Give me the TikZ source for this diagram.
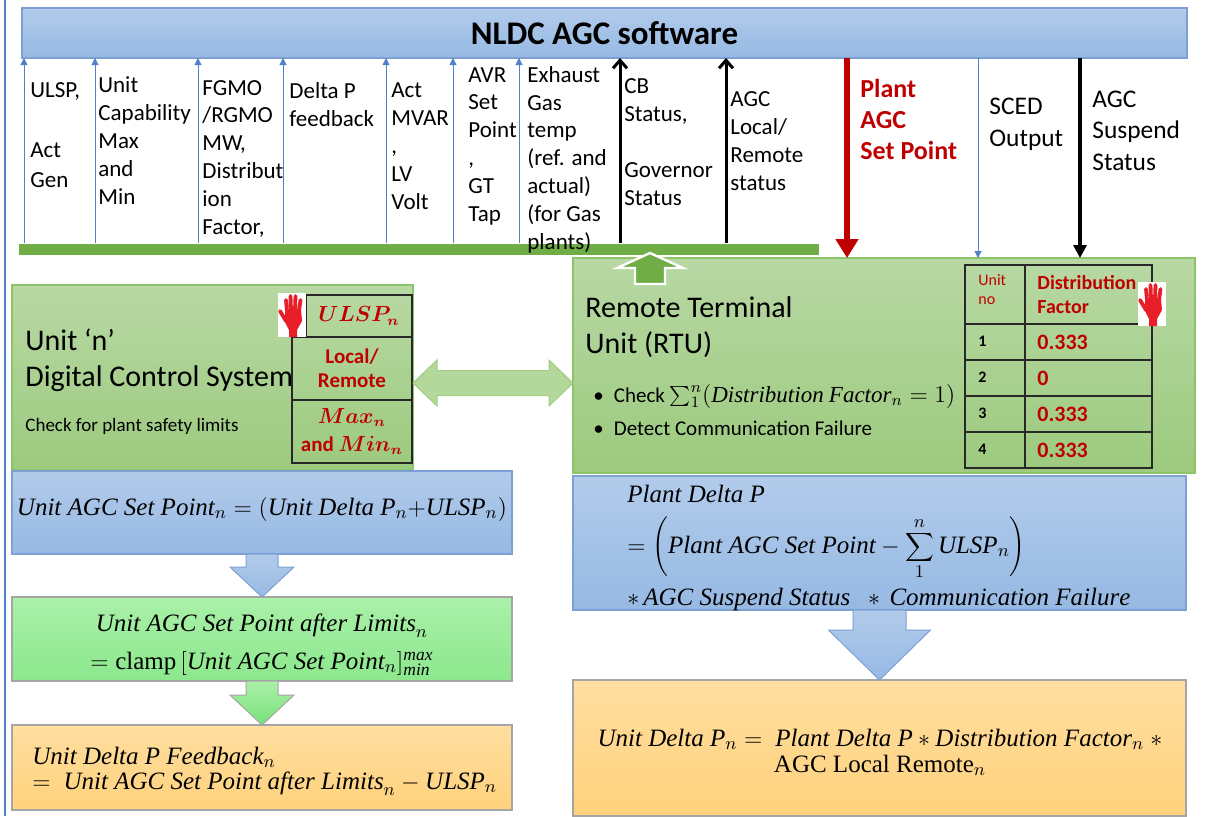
\documentclass[tikz,border=0pt]{standalone}
\usepackage{fontspec}
\usepackage{bm}
\newfontfamily\calibri{Carlito}
\newfontfamily\cambria[NFSSFamily=cambria]{Liberation Serif}
\DeclareMathAlphabet{\mathcam}{TU}{cambria}{m}{it}
\DeclareMathAlphabet{\mathcamup}{TU}{cambria}{m}{n}
\usetikzlibrary{calc,arrows.meta}
\def\blockdown[#1](#2)(#3)(#4:#5:#6){\draw[#1] ($(#2)+(-#4,0)$) -- ($(#3)+(-#4,-#6)$) -- ($(#3)+(-#5,-#6)$) -- (#3) -- ($(#3)+(#5,-#6)$) -- ($(#3)+(#4,-#6)$) -- ($(#2)+(#4,0)$) -- cycle;}

\definecolor{barline}{RGB}{125,160,212}
\definecolor{bartop}{RGB}{178,203,235}
\definecolor{barbot}{RGB}{150,185,227}
\definecolor{grtop}{RGB}{184,216,164}
\definecolor{grbot}{RGB}{156,202,126}
\definecolor{grline}{RGB}{140,196,106}
\definecolor{pgtop}{RGB}{170,240,170}
\definecolor{pgbot}{RGB}{140,232,140}
\definecolor{ortop}{RGB}{255,222,160}
\definecolor{orbot}{RGB}{255,210,124}
\definecolor{boxline}{RGB}{165,165,165}
\definecolor{busgreen}{RGB}{112,173,71}
\definecolor{agcred}{RGB}{192,0,0}
\definecolor{feedblue}{RGB}{80,128,200}
\definecolor{handred}{RGB}{232,30,40}
\definecolor{cellline}{RGB}{40,40,40}
\definecolor{dblgreen}{RGB}{180,216,156}

\tikzset{
  panel/.style={anchor=north west, inner sep=0pt, outer sep=0pt, line width=0.6pt},
  bluepanel/.style={panel, top color=bartop, bottom color=barbot, draw=barline},
  greenpanel/.style={panel, top color=grtop, bottom color=grbot, draw=grline},
  palepanel/.style={panel, top color=pgtop, bottom color=pgbot, draw=boxline},
  orangepanel/.style={panel, top color=ortop, bottom color=orbot, draw=boxline},
  sig/.style={anchor=base west, inner sep=0pt, align=left, font=\calibri\fontsize{11.5}{13.9}\selectfont},
  feed/.style={feedblue, line width=0.5pt, -{Triangle[length=3.5pt,width=3.5pt]}},
  status/.style={black, line width=1.5pt, -{Straight Barb[length=4pt,width=7pt]}},
  setpt/.style={agcred, line width=3pt, -{Triangle[length=9.5pt,width=11pt]}},
  suspline/.style={black, line width=2pt, -{Triangle[length=6.5pt,width=6.5pt]}},
  arrblue/.style={top color=bartop, bottom color=barbot, draw=barline, line width=0.5pt},
  arrgreen/.style={top color=pgtop, bottom color={rgb,255:red,120;green,225;blue,120}, draw=boxline, line width=0.5pt},
  eqn/.style={anchor=base, inner sep=0pt, font=\cambria\fontsize{12.5}{15}\selectfont},
  cell/.style={draw=cellline, line width=0.8pt, inner sep=0pt, text=agcred, align=center,
    font=\calibri\bfseries\fontsize{10.5}{12}\selectfont},
  tabtx/.style={anchor=base west, inner sep=0pt, align=left},
  stophand/.pic={
    \fill[white] (0,0) rectangle (28,44);
    \fill[handred] (7,17) -- (23,16) -- (24,28) -- (19,37) -- (19,44) -- (11,44) -- (11,37) -- (7,29) -- cycle;
    \draw[handred, line width=1.9pt, line cap=round] (9,18) -- (8,7) (13,17) -- (12.5,3) (17,17) -- (17.5,3) (21,18) -- (22.5,7) (8,28) -- (2,18);
  }
}

\begin{document}
\begin{tikzpicture}[x=0.5pt, y=-0.5pt]
	%%%%% START %%%%%
	\useasboundingbox (0,0) rectangle (1221,816);
	
	\draw[feedblue, line width=0.75pt] (5,0) -- (5,816);
	
	\node[bluepanel, minimum width=582.5pt, minimum height=25pt, font=\calibri\bfseries\fontsize{16.5}{20}\selectfont] (nldc) at (22,8) {NLDC AGC software};
	\node[panel, fill=busgreen, draw=white, minimum width=401pt, minimum height=6.5pt] (bus) at (18,243) {};
	
	% boxes
	\node[greenpanel, minimum width=200.5pt, minimum height=92.5pt] (unit) at (12,285) {};
	\node[greenpanel, minimum width=311pt, minimum height=107.5pt] (rtu) at (573,258) {};
	\node[bluepanel, minimum width=250pt, minimum height=41.5pt] (lset) at (12,471) {};
	\node[palepanel, minimum width=250pt, minimum height=42pt] (llim) at (12,597) {};
	\node[orangepanel, minimum width=250pt, minimum height=42.5pt] (lfb) at (12,725) {};
	\node[bluepanel, minimum width=306.5pt, minimum height=67pt] (pdp) at (573,476) {};
	\node[orangepanel, minimum width=306.5pt, minimum height=68pt] (udp) at (573,680) {};
	
	% signals to and from NLDC (base = last line)
	\node[sig, font=\calibri\fontsize{11.5}{15}\selectfont] (ulsp) at (30,187) {ULSP,\\\mbox{}\\Act\\Gen};
	\node[sig] (unitcap) at (98,204) {Unit\\Capability\\Max\\and\\Min};
	\node[sig] (fgmo) at (202,234) {FGMO\\/RGMO\\MW,\\Distribut\\ion\\Factor,};
	\node[sig] (dpfb) at (289,126) {Delta P\\feedback};
	\node[sig] (mvar) at (391,209) {Act\\MVAR\\,\\LV\\Volt};
	\node[sig] (avr) at (468,221) {AVR\\Set\\Point\\,\\GT\\Tap};
	\node[sig] (exhaust) at (527,249) {Exhaust\\Gas\\temp\\(ref. and\\actual)\\(for Gas\\plants)};
	\node[sig] (cbgov) at (624,205) {CB\\Status,\\\mbox{}\\Governor\\Status};
	\node[sig] (agclr) at (730,190) {AGC\\Local/\\Remote\\status};
	\node[sig, text=agcred, font=\calibri\bfseries\fontsize{13}{15.5}\selectfont] (plantsp) at (860,159) {Plant\\AGC\\Set Point};
	\node[sig, font=\calibri\fontsize{12.7}{16}\selectfont] (sced) at (989,146) {SCED\\Output};
	\node[sig, font=\calibri\fontsize{12.7}{15.75}\selectfont] (suspend) at (1092,170) {AGC\\Suspend\\Status};
	
	\foreach \x in {24,95,198,283,386,453,519}
		\draw[feed] (\x,0 |- bus.north) -- (\x,0 |- nldc.south);
	\draw[status] (620,0 |- bus.north) -- (620,0 |- nldc.south);
	\draw[status] (726,0 |- bus.north) -- (726,0 |- nldc.south);
	\draw[setpt] (847,0 |- nldc.south) -- (847,0 |- rtu.north);
	\draw[feed] (978,0 |- nldc.south) -- (978,0 |- rtu.north);
	\draw[suspline] (1080,0 |- nldc.south) -- (1080,0 |- rtu.north);
	
	% RTU up to bus
	\coordinate (rtuup) at (650,253);
	\draw[fill=busgreen, draw=white, line width=1.2pt] (rtuup) -- ++(33,15) -- ++(-18,0) -- ++(0,16) -- ++(-30,0) -- ++(0,-16) -- ++(-18,0) -- cycle;
	
	% unit DCS
	\node[anchor=base west, inner sep=0pt, align=left, font=\calibri\fontsize{15}{18}\selectfont] (unittitle) at (25,386) {Unit ‘n’\\Digital Control System};
	\node[anchor=base west, inner sep=0pt, font=\calibri\fontsize{9.5}{11}\selectfont] (safety) at (25,431) {Check for plant safety limits};
	\node[cell, minimum width=53pt, minimum height=21pt] (ulspc) at (359,316) {$\bm{ULSP_n}$};
	\node[cell, minimum width=60pt, minimum height=31.5pt] (lrc) at (352,368.5) {Local/\\Remote};
	\node[cell, minimum width=60pt, minimum height=31.5pt] (mmc) at (352,431.5) {$\bm{Max_n}$\\[2pt]and $\bm{Min_n}$};
	\pic at (278,293) {stophand};
	
	% link DCS - RTU
	\coordinate (dl) at (413,383);
	\coordinate (dr) at (573,383);
	\draw[fill=dblgreen, draw={rgb,255:red,160;green,205;blue,130}, line width=0.5pt] (dl) -- ++(24,-23) -- ++(0,10.5) -- ($(dr)+(-24,-12.5)$) -- ++(0,-10.5) -- (dr) -- ++(-24,23) -- ++(0,-10.5) -- ($(dl)+(24,12.5)$) -- ++(0,10.5) -- cycle;
	
	% RTU
	\node[anchor=base west, inner sep=0pt, align=left, font=\calibri\fontsize{15}{18}\selectfont] (rtutitle) at (585,353) {Remote Terminal\\Unit (RTU)};
	\node[tabtx, font=\calibri\fontsize{10.5}{12.5}\selectfont] (chk) at (593,402) {\textbullet\hspace{5pt}Check {\fontsize{11.5}{14}\selectfont$\sum_{1}^{n}(\mathcam{Distribution\ Factor}_n=1)$}};
	\node[tabtx, font=\calibri\fontsize{10.5}{12.5}\selectfont] (dcf) at (593,435) {\textbullet\hspace{5pt}Detect Communication Failure};
	\draw[cellline, line width=0.8pt] (965,265) rectangle (1152,468);
	\draw[cellline, line width=0.8pt] (1025,265) -- (1025,468);
	\foreach \y in {324,360,396,432}
		\draw[cellline, line width=0.8pt] (965,\y) -- (1152,\y);
	\node[tabtx, text=agcred, font=\calibri\fontsize{8}{9.5}\selectfont] (unitno) at (978,304) {Unit\\no};
	\node[tabtx, text=agcred, font=\calibri\bfseries\fontsize{10}{12}\selectfont] (dfhead) at (1037,313) {Distribution\\Factor};
	\foreach \n/\v/\y in {1/0.333/342,2/0/378,3/0.333/414,4/0.333/450} {
		\node[tabtx, font=\calibri\bfseries\fontsize{8}{9}\selectfont] (no\n) at (978,\y+4) {\n};
		\node[tabtx, text=agcred, font=\calibri\bfseries\fontsize{11}{13}\selectfont] (df\n) at (1037,\y+7) {\v};
	}
	\pic at (1138,282) {stophand};
	
	% left chain
	\node[eqn] (lsettx) at (262,515) {$\mathcam{Unit\ AGC\ Set\ Point}_n=(\mathcam{Unit\ Delta\ P}_n{+}\mathcam{ULSP}_n)$};
	\node[eqn] (llimtx) at (262,631) {$\mathcam{Unit\ AGC\ Set\ Point\ after\ Limits}_n$};
	\node[eqn] (clamptx) at (262,669) {$=\mathcamup{clamp}\,[\mathcam{Unit\ AGC\ Set\ Point}_n]_{\mathcam{min}}^{\mathcam{max}}$};
	\node[eqn, anchor=base west] (lfbtx) at (32,764) {$\mathcam{Unit\ Delta\ P\ Feedback}_n$};
	\node[eqn, anchor=base west] (lfbeq) at (32,789) {$=\ \mathcam{Unit\ AGC\ Set\ Point\ after\ Limits}_n-\mathcam{ULSP}_n$};
	\blockdown[arrblue](lset.south)(llim.north)(16:32:30)
	\blockdown[arrgreen](llim.south)(lfb.north)(16:32:30)
	
	% right chain
	\node[eqn, anchor=base west] (pdptx) at (627,502) {$\mathcam{Plant\ Delta\ P}$};
	\node[eqn, anchor=base west] (pdpeq) at (627,553) {$\displaystyle=\left(\mathcam{Plant\ AGC\ Set\ Point}-\sum_{1}^{n}\mathcam{ULSP}_n\right)$};
	\node[eqn, anchor=base west] (pdpst) at (627,605) {$*\,\mathcam{AGC\ Suspend\ Status}\ \ *\,\mathcam{Communication\ Failure}$};
	\node[eqn] (udptx) at (880,746) {$\mathcam{Unit\ Delta\ P}_n=\ \mathcam{Plant\ Delta\ P}*\mathcam{Distribution\ Factor}_n\ *$};
	\node[eqn] (udplr) at (880,772) {$\mathcamup{AGC\ Local\ Remote}_n$};
	\blockdown[arrblue](pdp.south)(udp.north)(26.5:51:50)
	
	%%%%% END %%%%%
\end{tikzpicture}
\end{document}
